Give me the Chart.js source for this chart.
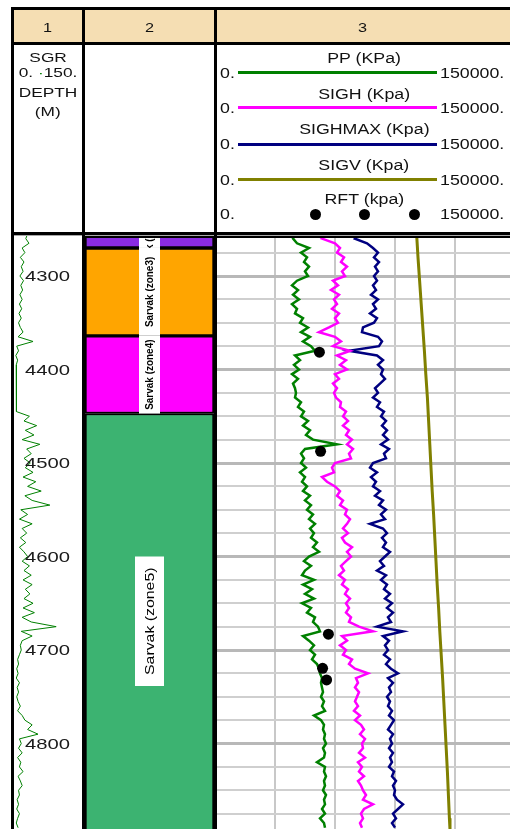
<!DOCTYPE html>
<html><head><meta charset="utf-8">
<script src="https://cdn.jsdelivr.net/npm/chart.js@4.4.1/dist/chart.umd.min.js"></script>
<style>
html,body{margin:0;padding:0;background:#fff;width:510px;height:829px;overflow:hidden;position:relative;font-family:"Liberation Sans",Arial,sans-serif;}
.k{position:absolute;background:#000;z-index:5;}
.t{position:absolute;white-space:nowrap;color:#111;z-index:6;}
canvas{position:absolute;z-index:1;}
</style></head><body>
<div class="k" style="left:14px;top:10px;width:496px;height:32px;background:#F5DEB3;z-index:0"></div>
<div class="k" style="left:11px;top:7px;width:499px;height:3px"></div>
<div class="k" style="left:11px;top:42px;width:499px;height:3px"></div>
<div class="k" style="left:11px;top:232px;width:499px;height:3px"></div>
<div class="k" style="left:14px;top:235px;width:496px;height:1px;background:#a8a8a8"></div>
<div class="k" style="left:85px;top:236px;width:425px;height:2px"></div>
<div class="k" style="left:11px;top:7px;width:3px;height:822px"></div>
<div class="k" style="left:82px;top:7px;width:3px;height:822px"></div>
<div class="k" style="left:214px;top:7px;width:3px;height:822px"></div>
<canvas id="c1" width="68" height="593" style="left:14px;top:236px;width:68px;height:593px"></canvas>
<canvas id="c2" width="129" height="593" style="left:85px;top:236px;width:129px;height:593px"></canvas>
<canvas id="c3" width="293" height="593" style="left:217px;top:236px;width:293px;height:593px"></canvas>
<script>
// ---------------- data ----------------
const DEPTH = [
4255,4260,4265,4270,4275,4280,4285,4290,4295,4300,
4305,4310,4315,4320,4325,4330,4335,4340,4345,4350,
4355,4360,4365,4370,4375,4380,4385,4390,4395,4400,
4405,4410,4415,4420,4425,4430,4435,4440,4445,4450,
4455,4460,4465,4470,4475,4480,4485,4490,4495,4500,
4505,4510,4515,4520,4525,4530,4535,4540,4545,4550,
4555,4560,4565,4570,4575,4580,4585,4590,4595,4600,
4605,4610,4615,4620,4625,4630,4635,4640,4645,4650,
4655,4660,4665,4670,4675,4680,4685,4690,4695,4700,
4705,4710,4715,4720,4725,4730,4735,4740,4745,4750,
4755,4760,4765,4770,4775,4780,4785,4790,4795,4800,
4805,4810,4815,4820,4825,4830,4835,4840,4845,4850,
4855,4860,4865,4870,4875,4880,4885,4890];
const PP = [
40000,39000,41000,47000,43000,46000,44500,47000,45000,46500,
41000,38500,41500,39000,42000,38500,41000,40000,44000,42500,
46500,43000,47500,44000,48000,50000,40000,42500,39500,42000,
38500,41500,39000,40000,40500,40000,43000,41500,44500,43000,
46500,44000,47500,45500,49000,61000,45000,43000,44500,43000,
45500,42500,45000,43500,46000,44000,47500,45000,48000,46000,
49000,47000,50000,47500,49500,48000,51000,49000,52000,47000,
44500,48000,45000,43500,49500,44000,48500,45000,49500,43500,
48000,46000,50000,49000,51500,52500,44000,47000,49500,47500,
50000,48500,51000,52000,52500,53500,53000,53500,54000,53000,
54500,53500,55000,49500,53000,54500,54000,55000,54500,55500,
54000,55000,54500,51000,55000,54500,55500,54500,55000,54000,
55500,54500,55000,53500,55000,52500,54500,55000];
const SIGH = [
56000,53500,60000,62500,61000,64500,63000,66000,63500,65000,
59000,61500,58000,62000,59500,61000,58500,62000,60000,61500,
57000,52000,60000,63000,59000,67500,61000,65500,62500,66000,
60000,62000,59000,61000,59500,60500,63000,62500,65500,64000,
66500,64000,67000,65500,68500,66000,69000,67000,68000,60000,
58500,59500,53500,56000,60000,62500,61000,64000,62500,66000,
65000,67500,66000,64000,66500,63500,65000,68500,66000,68000,
65500,63000,64500,62000,65000,63500,66500,65000,67500,65500,
67000,65500,68000,67000,72000,79000,63500,66000,62500,65500,
64000,68500,67000,70000,76500,70500,71500,70000,72000,71000,
70000,71500,69500,72500,70000,73000,74500,72500,75000,73500,
74000,72000,75000,71500,73500,72000,74500,71500,73000,74000,
75500,74000,79000,74500,73000,74000,72500,73500];
const SIGHMAX = [
72000,70000,76000,79000,81500,79500,82000,80000,81500,79500,
81000,79000,80500,78000,81500,79000,80500,77500,81000,79500,
74000,73500,81500,83500,82000,67000,81000,84000,81500,84000,
83000,85000,82500,80000,81500,79000,82500,81000,84500,83000,
85500,83500,86000,84000,86500,83000,87000,84500,85500,79000,
77500,81000,78000,80500,79000,82500,80000,84000,82000,85500,
83000,85000,77500,84000,86000,83500,85500,84000,87500,85000,
82500,84500,81000,85500,83000,86000,84500,87500,85000,88500,
86000,89000,86500,88000,81000,94000,84000,87000,85000,86500,
84500,87500,85500,88000,91500,86500,89000,87000,88000,86000,
87500,86500,88500,87000,89500,88000,86500,89000,87500,88500,
87000,89000,87500,88500,87000,89500,88500,90500,89000,90000,
89500,91000,94000,91500,89000,90500,88500,90000];
const SGR = [
30,26,33,18,24,14,22,16,20,13,
21,15,19,13,18,12,17,11,16,10,
14,20,9,42,6,10,4,8,5,6,
5,6,5,5,6,5,5,6,5,34,
22,50,25,44,18,57,28,38,22,36,
25,42,20,48,30,60,24,40,79,15,
30,12,40,18,28,14,26,12,22,30,
18,34,22,38,20,40,25,35,22,42,
20,45,18,38,93,16,40,18,14,16,
12,8,10,6,9,5,12,7,10,6,
9,14,8,18,24,40,30,53,12,16,
10,18,8,15,12,20,9,14,18,10,
12,7,10,6,12,8,5,9];
const SIGV_DEPTH = [4255,4280,4305,4330,4355,4380,4405,4430,4455,4480,4505,4530,4555,4580,4605,4630,4655,4680,4705,4730,4755,4780,4805,4830,4855,4880,4892];
const SIGV = [100800,101500,102300,103100,103900,104700,105400,106200,106800,107400,108000,108600,109300,109900,110500,111100,111800,112400,113100,113800,114400,115000,115600,116200,116700,117200,117500];
const RFT_DEPTH = [4381.5,4487.5,4683,4719.5,4732];
const RFT = [52200,52800,56700,53800,55800];
const ZONE_NAMES = ['Sarvak (zone2)','Sarvak (zone3)','Sarvak (zone4)','Sarvak (zone5)'];
const ZONE_TOP = [4230,4270,4364,4447];
const ZONE_BASE = [4270,4364,4447,4900];
const DEPTH_LABELS = [4300,4400,4500,4600,4700,4800];
const GRID_DEPTHS = [4275,4300,4325,4350,4375,4400,4425,4450,4475,4500,4525,4550,4575,4600,4625,4650,4675,4700,4725,4750,4775,4800,4825,4850,4875];
const X_GRID = [30000,60000,90000,120000];
const TRACK_TITLES = ['1','2','3'];
const SGR_HEADER = ['SGR','0. <span style="color:#008000">·</span>150.','DEPTH','(M)'];
const LEGEND_TITLES = ['PP (KPa)','SIGH (Kpa)','SIGHMAX (Kpa)','SIGV (Kpa)','RFT (kpa)'];
const LEGEND_MIN = '0.';
const LEGEND_MAX = '150000.';

// ---------------- styles ----------------
const COL = {pp:'#008000', sigh:'#FF00FF', sighmax:'#000080', sigv:'#808000', rft:'#000000', sgr:'#008000'};
const ZONE_COLORS = ['#8A2BE2','#FFA500','#FF00FF','#3CB371'];
const ZONE_LABEL_STYLE = [
  {font:'bold 10.5px "Liberation Sans", Arial, sans-serif', stretch:0.95, width:21, fit:true},
  {font:'bold 10.5px "Liberation Sans", Arial, sans-serif', stretch:0.95, width:21, fit:true},
  {font:'bold 10.5px "Liberation Sans", Arial, sans-serif', stretch:0.95, width:21, fit:true},
  {font:'13px "Liberation Sans", Arial, sans-serif', stretch:1.22, width:29, fit:false, pad:11}
];
const YMIN = 4257.2, YMAX = 4891.4;

// ---------------- header ----------------
function txt(html, cx, cy, size, sx, align) {
  const d = document.createElement('div');
  d.className = 't';
  const h = Math.round(size * 1.2);
  d.style.top = (cy - h / 2) + 'px';
  d.style.height = h + 'px';
  d.style.lineHeight = h + 'px';
  d.style.fontSize = size + 'px';
  const sp = document.createElement('span');
  sp.style.display = 'inline-block';
  sp.style.transform = 'scaleX(' + sx + ')';
  if (align === 'center') {
    d.style.left = (cx - 150) + 'px'; d.style.width = '300px'; d.style.textAlign = 'center';
    sp.style.transformOrigin = '50% 50%';
  } else {
    d.style.left = cx + 'px'; sp.style.transformOrigin = '0 50%';
  }
  sp.innerHTML = html;
  d.appendChild(sp);
  document.body.appendChild(d);
}
function box(left, top, w, h, color, radius) {
  const d = document.createElement('div');
  d.className = 'k';
  d.style.left = left + 'px'; d.style.top = top + 'px';
  d.style.width = w + 'px'; d.style.height = h + 'px';
  d.style.background = color;
  if (radius) d.style.borderRadius = radius;
  document.body.appendChild(d);
}
const TRACK_CX = [48, 149.5, 363];
TRACK_TITLES.forEach((t, i) => txt(t, TRACK_CX[i], 27.5, 13, 1.25, 'center'));
[58, 73, 93, 112].forEach((cy, i) => txt(SGR_HEADER[i], 48, cy, 13, 1.33, 'center'));
const LEG_TITLE_Y = [58, 94, 129.5, 165, 199.5];
const LEG_ROW_Y = [73, 108.5, 144.5, 180, 214];
const LEG_LINE_Y = [71, 106, 143, 178];
const LEG_COLORS = [COL.pp, COL.sigh, COL.sighmax, COL.sigv];
LEGEND_TITLES.forEach((t, i) => {
  txt(t, 364, LEG_TITLE_Y[i], 14, 1.27, 'center');
  txt(LEGEND_MIN, 220, LEG_ROW_Y[i], 14, 1.27, 'left');
  txt(LEGEND_MAX, 440, LEG_ROW_Y[i], 14, 1.27, 'left');
  if (i < 4) box(238, LEG_LINE_Y[i], 199, 3, LEG_COLORS[i]);
});
[315, 364, 414].forEach(x => box(x - 5.5, 214 - 5.5, 11, 11, '#000', '50%'));

// ---------------- charts ----------------
const pts = (xs, ys) => xs.map((v, i) => ({x: v, y: ys[i]}));
const yScaleBase = {type:'linear', min:YMIN, max:YMAX, reverse:true, bounds:'data'};
const LAYOUT = {padding: 0, autoPadding: false};

// Track 1: SGR + depth labels
const depthLabels = {
  id: 'depthLabels',
  afterDraw(chart) {
    const y = chart.scales.y, ctx = chart.ctx;
    ctx.save();
    ctx.font = '15px "Liberation Sans", Arial, sans-serif';
    ctx.fillStyle = '#1a1a1a';
    ctx.textAlign = 'right';
    ctx.textBaseline = 'middle';
    DEPTH_LABELS.forEach(v => {
      const py = y.getPixelForValue(v);
      ctx.save();
      ctx.translate(56, py);
      ctx.scale(1.35, 1);
      ctx.fillText(String(v), 0, 1);
      ctx.restore();
    });
    ctx.restore();
  }
};
new Chart(document.getElementById('c1'), {
  type: 'scatter',
  data: {datasets: [{data: pts(SGR, DEPTH), showLine: true, borderColor: COL.sgr, borderWidth: 1, pointRadius: 0, tension: 0}]},
  options: {
    responsive: false, animation: false, events: [],
    plugins: {legend: {display: false}, tooltip: {enabled: false}},
    layout: LAYOUT,
    scales: {
      x: {type: 'linear', min: 0, max: 150, display: false},
      y: Object.assign({}, yScaleBase, {display: false})
    }
  },
  plugins: [depthLabels]
});

// Track 2: zones
const zoneLabels = {
  id: 'zoneLabels',
  afterDatasetsDraw(chart) {
    const y = chart.scales.y, a = chart.chartArea, ctx = chart.ctx;
    const cx = (a.left + a.right) / 2;
    ctx.save();
    ctx.beginPath(); ctx.rect(a.left, a.top, a.right - a.left, a.bottom - a.top); ctx.clip();
    ZONE_NAMES.forEach((name, i) => {
      const st = ZONE_LABEL_STYLE[i];
      const top = Math.max(y.getPixelForValue(ZONE_TOP[i]), a.top);
      const bot = Math.min(y.getPixelForValue(ZONE_BASE[i]), a.bottom);
      const cy = (top + bot) / 2;
      ctx.font = st.font;
      const len = ctx.measureText(name).width * st.stretch;
      let h = st.fit ? (bot - top) : len + 2 * st.pad;
      ctx.save();
      ctx.beginPath();
      ctx.rect(cx - st.width / 2, cy - h / 2, st.width, h);
      ctx.fillStyle = '#fff'; ctx.fill(); ctx.clip();
      ctx.translate(cx, cy);
      ctx.rotate(-Math.PI / 2);
      ctx.scale(st.stretch, 1);
      ctx.fillStyle = '#000';
      ctx.textAlign = 'center'; ctx.textBaseline = 'middle';
      ctx.fillText(name, 0, 0.5);
      ctx.restore();
    });
    ctx.restore();
  }
};
new Chart(document.getElementById('c2'), {
  type: 'bar',
  data: {
    labels: ['zones'],
    datasets: ZONE_NAMES.map((n, i) => ({
      label: n, data: [[ZONE_TOP[i], ZONE_BASE[i]]], backgroundColor: ZONE_COLORS[i],
      borderColor: '#000', borderWidth: 2, borderSkipped: false, grouped: false,
      barPercentage: 1, categoryPercentage: 1
    }))
  },
  options: {
    responsive: false, animation: false, events: [],
    plugins: {legend: {display: false}, tooltip: {enabled: false}},
    layout: LAYOUT,
    scales: {
      x: {display: false},
      y: Object.assign({}, yScaleBase, {display: false})
    }
  },
  plugins: [zoneLabels]
});

// Track 3: pressures
const lineDs = (vals, depths, color, w) => ({data: pts(vals, depths), showLine: true, borderColor: color, borderWidth: w, pointRadius: 0, tension: 0});
new Chart(document.getElementById('c3'), {
  type: 'scatter',
  data: {datasets: [
    {data: pts(RFT, RFT_DEPTH), showLine: false, pointRadius: 5.5, pointStyle: 'circle', backgroundColor: COL.rft, borderColor: COL.rft, borderWidth: 0},
    lineDs(PP, DEPTH, COL.pp, 2.5),
    lineDs(SIGH, DEPTH, COL.sigh, 2.5),
    lineDs(SIGHMAX, DEPTH, COL.sighmax, 2.5),
    lineDs(SIGV, SIGV_DEPTH, COL.sigv, 3)
  ]},
  options: {
    responsive: false, animation: false, events: [],
    plugins: {legend: {display: false}, tooltip: {enabled: false}},
    layout: LAYOUT,
    scales: {
      x: {type: 'linear', min: 1000, max: 147500, bounds: 'data',
          ticks: {display: false}, border: {display: false},
          grid: {color: '#c8c8c8', lineWidth: 2, drawTicks: false},
          afterBuildTicks: s => { s.ticks = X_GRID.map(v => ({value: v})); },
          afterFit: s => { s.height = 0; }},
      y: Object.assign({}, yScaleBase, {
          ticks: {display: false}, border: {display: false},
          grid: {drawTicks: false,
                 color: c => (c.tick && c.tick.value % 100 === 0) ? '#b8b8b8' : '#cfcfcf',
                 lineWidth: c => (c.tick && c.tick.value % 100 === 0) ? 3 : 2},
          afterBuildTicks: s => { s.ticks = GRID_DEPTHS.map(v => ({value: v})); },
          afterFit: s => { s.width = 0; }})
    }
  }
});
</script>
</body></html>
